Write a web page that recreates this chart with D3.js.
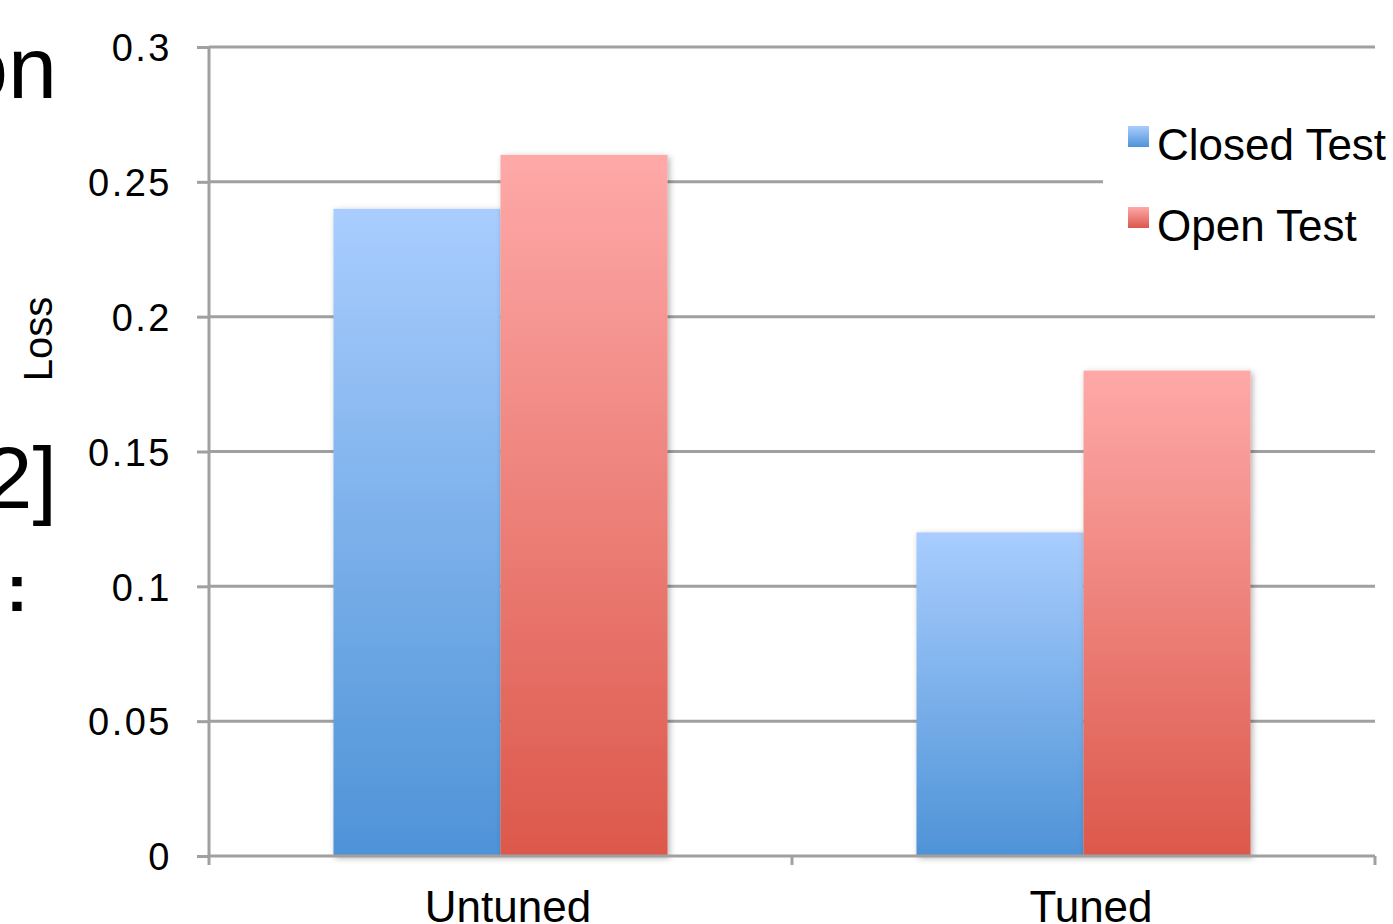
<!DOCTYPE html>
<html>
<head>
<meta charset="utf-8">
<script src="https://cdn.jsdelivr.net/npm/d3@7"></script>
<style>
  html, body { margin: 0; padding: 0; background: #fff; }
  svg { display: block; font-family: "Liberation Sans", Arial, Helvetica, sans-serif; }
</style>
</head>
<body>
<svg id="chart" width="1393" height="924"></svg>
<script>
const categories = ["Untuned", "Tuned"];
const seriesNames = ["Closed Test", "Open Test"];
const closedTest = [0.24, 0.12];
const openTest = [0.26, 0.18];
const yTicks = [0, 0.05, 0.1, 0.15, 0.2, 0.25, 0.3];
const yTickLabels = ["0", "0.05", "0.1", "0.15", "0.2", "0.25", "0.3"];
const sideFragments = ["on", "2]", ":"];

const seriesValues = [closedTest, openTest];
const gradTop = ["#a9cdfe", "#fea9a8"];
const gradBottom = ["#4e93d7", "#dc584b"];
const gridColor = "#a0a0a0";

const svg = d3.select("#chart");
const defs = svg.append("defs");
seriesNames.forEach((s, i) => {
  const g = defs.append("linearGradient").attr("id", "grad" + i)
    .attr("x1", 0).attr("y1", 0).attr("x2", 0).attr("y2", 1);
  g.append("stop").attr("offset", "0%").attr("stop-color", gradTop[i]);
  g.append("stop").attr("offset", "100%").attr("stop-color", gradBottom[i]);
});
const f = defs.append("filter").attr("id", "shadow")
  .attr("x", "-10%").attr("y", "-10%").attr("width", "130%").attr("height", "130%");
f.append("feDropShadow").attr("dx", 2).attr("dy", 2).attr("stdDeviation", 3)
  .attr("flood-color", "#000").attr("flood-opacity", 0.3);

const pLeft = 209, pRight = 1375, pTop = 47, pBottom = 856;

const y = d3.scaleLinear().domain([0, 0.3]).range([pBottom, pTop]);
const x0 = d3.scaleBand().domain(categories).range([pLeft, pRight]).padding(0);
const bw = x0.bandwidth();
const groupW = bw * 0.573;
const x1 = d3.scaleBand().domain(seriesNames)
  .range([(bw - groupW) / 2, (bw + groupW) / 2]).padding(0);

// side fragments of slide text
const frag = svg.append("g").attr("fill", "#000");
frag.append("text").attr("x", 57).attr("y", 98).attr("text-anchor", "end")
  .attr("font-size", 88).text(sideFragments[0]);
frag.append("text").attr("x", 57).attr("y", 508).attr("text-anchor", "end")
  .attr("font-size", 88).text(sideFragments[1]);
frag.append("text").attr("x", 6).attr("y", 611).attr("text-anchor", "start")
  .attr("font-size", 66).attr("font-weight", "bold").text(sideFragments[2]);

// gridlines
svg.append("g").selectAll("line").data(yTicks.filter(d => d > 0)).join("line")
  .attr("x1", pLeft).attr("x2", pRight)
  .attr("y1", d => y(d)).attr("y2", d => y(d))
  .attr("stroke", gridColor).attr("stroke-width", 3);

// y axis
const yAxis = d3.axisLeft(y).tickValues(yTicks)
  .tickFormat((d, i) => yTickLabels[i]).tickSize(12).tickPadding(25);
const ya = svg.append("g").attr("transform", `translate(${pLeft},0)`).call(yAxis);
ya.select(".domain").attr("stroke", gridColor).attr("stroke-width", 3)
  .attr("d", `M0,${pTop}V${pBottom}`);
ya.selectAll(".tick line").attr("stroke", gridColor).attr("stroke-width", 3);
ya.selectAll(".tick text").attr("font-size", 38).attr("fill", "#000")
  .attr("letter-spacing", 2.5).attr("font-family", "Liberation Sans, Arial, sans-serif")
  .attr("dy", "0.36em");

// bars
const groups = svg.append("g").selectAll("g").data(categories).join("g")
  .attr("transform", d => `translate(${x0(d)},0)`);
groups.selectAll("rect")
  .data((c, ci) => seriesNames.map((s, si) => ({ s, si, v: seriesValues[si][ci] })))
  .join("rect")
  .attr("x", d => x1(d.s))
  .attr("width", x1.bandwidth())
  .attr("y", d => y(d.v))
  .attr("height", d => y(0) - y(d.v))
  .attr("fill", d => `url(#grad${d.si})`)
  .attr("filter", "url(#shadow)");

// x axis
const xa = svg.append("g").attr("transform", `translate(0,${pBottom})`);
xa.append("line").attr("x1", pLeft).attr("x2", pRight).attr("y1", 0).attr("y2", 0)
  .attr("stroke", gridColor).attr("stroke-width", 3);
const xTickPos = [pLeft].concat(categories.map(c => x0(c) + bw));
xa.selectAll("line.tk").data(xTickPos).join("line").attr("class", "tk")
  .attr("x1", d => d).attr("x2", d => d).attr("y1", 0).attr("y2", 9)
  .attr("stroke", gridColor).attr("stroke-width", 3);
xa.selectAll("text").data(categories).join("text")
  .attr("x", d => x0(d) + bw / 2 + 7.5)
  .attr("y", 66)
  .attr("text-anchor", "middle")
  .attr("font-size", 44).attr("fill", "#000")
  .text(d => d);

// y axis title
svg.append("text")
  .attr("transform", "translate(52,339) rotate(-90)")
  .attr("text-anchor", "middle")
  .attr("font-size", 40).attr("fill", "#000")
  .text("Loss");

// legend
const lg = svg.append("g");
lg.append("rect").attr("x", 1103).attr("y", 110).attr("width", 290).attr("height", 150)
  .attr("fill", "#fff");
const legendItems = lg.selectAll("g").data(seriesNames).join("g")
  .attr("transform", (d, i) => `translate(1128,${126 + i * 81})`);
legendItems.append("rect").attr("width", 21).attr("height", 21)
  .attr("fill", (d, i) => `url(#grad${i})`);
legendItems.append("text").attr("x", 29).attr("y", 34)
  .attr("font-size", 44).attr("fill", "#000").text(d => d);
</script>
</body>
</html>
